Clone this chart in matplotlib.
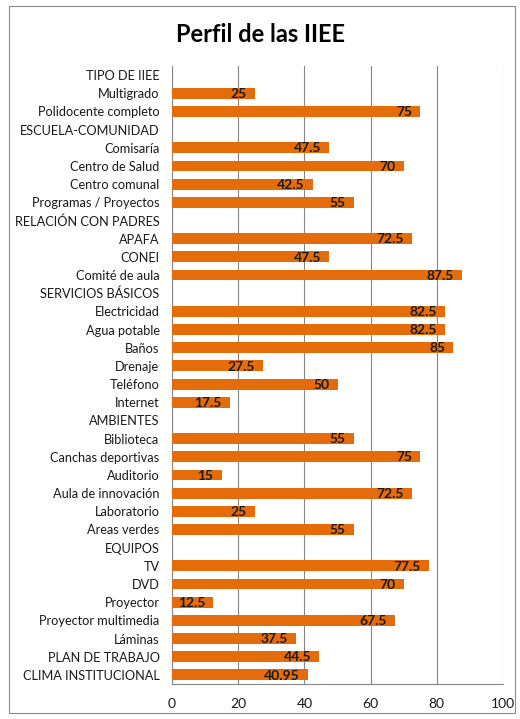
import matplotlib
matplotlib.use("Agg")
import matplotlib.pyplot as plt
from matplotlib.patches import Rectangle

plt.rcParams['font.family'] = ['Lato', 'DejaVu Sans']

categories = [
    "TIPO DE IIEE", "Multigrado", "Polidocente completo", "ESCUELA-COMUNIDAD",
    "Comisaría", "Centro de Salud", "Centro comunal", "Programas / Proyectos",
    "RELACIÓN CON PADRES", "APAFA", "CONEI", "Comité de aula",
    "SERVICIOS BÁSICOS", "Electricidad", "Agua potable", "Baños", "Drenaje",
    "Teléfono", "Internet", "AMBIENTES", "Biblioteca", "Canchas deportivas",
    "Auditorio", "Aula de innovación", "Laboratorio", "Areas verdes", "EQUIPOS",
    "TV", "DVD", "Proyector", "Proyector multimedia", "Láminas",
    "PLAN DE TRABAJO", "CLIMA INSTITUCIONAL",
]
values = [
    None, 25, 75, None,
    47.5, 70, 42.5, 55,
    None, 72.5, 47.5, 87.5,
    None, 82.5, 82.5, 85, 27.5,
    50, 17.5, None, 55, 75,
    15, 72.5, 25, 55, None,
    77.5, 70, 12.5, 67.5, 37.5,
    44.5, 40.95,
]
xticks = [0, 20, 40, 60, 80, 100]
title = "Perfil de las IIEE"

fig = plt.figure(figsize=(5.2, 7.19), dpi=100)
fig.patches.append(Rectangle((9/520, 6/719), 506/520, 707/719, transform=fig.transFigure,
                             fill=False, edgecolor='#8c8c8c', linewidth=0.8))
ax = fig.add_axes([172/520, 1 - 684/719, 331/520, 618/719])

ypos = list(range(len(categories)))
bar_color = '#E46C0A'
for y, v in zip(ypos, values):
    if v is None:
        continue
    ax.barh(y, v, height=0.6, color=bar_color, zorder=3)
    ax.annotate(f"{v:g}", xy=(v, y), xytext=(-6, -0.5), textcoords='offset points',
                ha='right', va='center', fontsize=10, fontweight='bold',
                color='#1a1a1a', zorder=4)

ax.set_ylim(len(categories) - 0.5, -0.5)
ax.set_yticks(ypos)
ax.set_yticklabels(categories, fontsize=9.2, color='#1a1a1a')
ax.set_xlim(0, 100)
ax.set_xticks(xticks)
ax.set_xticklabels([str(t) for t in xticks], fontsize=10, color='#1a1a1a')
ax.tick_params(axis='y', length=0, pad=9)
ax.tick_params(axis='x', length=0, pad=10)
ax.grid(axis='x', color='#868686', linewidth=0.8, zorder=0)
for s in ['top', 'right']:
    ax.spines[s].set_visible(False)
ax.spines['left'].set_color('#868686')
ax.spines['bottom'].set_color('#868686')
ax.spines['left'].set_linewidth(0.8)
ax.spines['bottom'].set_linewidth(0.8)

fig.text(0.5, 1 - 35/719, title, ha='center', va='center', fontsize=17, fontweight='bold')

fig.savefig("out.png", dpi=100, facecolor='white')
